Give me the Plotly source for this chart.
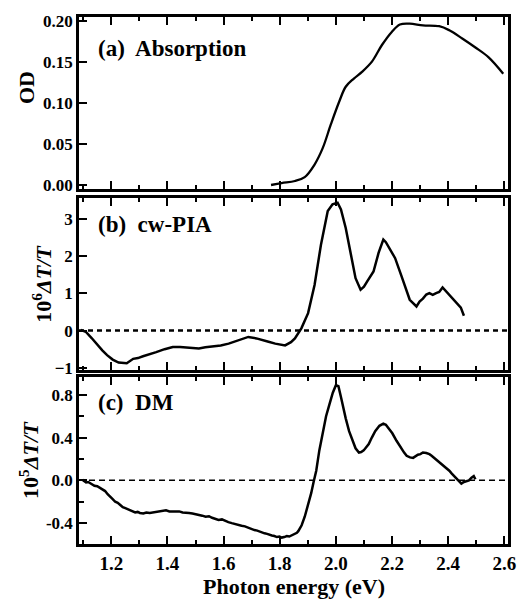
import plotly.graph_objects as go

# ---------------- data ----------------
# (a) absorption spectrum
abs_energy = [1.769, 1.807, 1.854, 1.889, 1.924, 1.953, 1.982, 2.012, 2.035, 2.064,
              2.094, 2.129, 2.164, 2.199, 2.228, 2.263, 2.310, 2.368, 2.404, 2.450,
              2.497, 2.544, 2.596]
abs_od = [0.000, 0.0024, 0.0049, 0.0097, 0.025, 0.045, 0.074, 0.102, 0.120, 0.130,
          0.1385, 0.151, 0.171, 0.187, 0.196, 0.197, 0.195, 0.194, 0.189, 0.179,
          0.168, 0.156, 0.136]

# (b) cw photoinduced absorption, units of 1e-6
pia_energy = [1.091, 1.109, 1.130, 1.150, 1.168, 1.185, 1.205, 1.226, 1.255, 1.278,
              1.295, 1.313, 1.336, 1.360, 1.390, 1.419, 1.445, 1.466, 1.490, 1.512,
              1.535, 1.559, 1.590, 1.618, 1.653, 1.688, 1.717, 1.737, 1.760, 1.784,
              1.819, 1.840, 1.854, 1.877, 1.901, 1.924, 1.947, 1.971, 1.988, 2.006,
              2.018, 2.035, 2.053, 2.070, 2.088, 2.100, 2.111, 2.122, 2.134, 2.152,
              2.169, 2.178, 2.187, 2.211, 2.234, 2.263, 2.287, 2.298, 2.310, 2.322,
              2.333, 2.345, 2.357, 2.368, 2.380, 2.392, 2.404, 2.420, 2.433, 2.445,
              2.456]
pia_signal = [0.02, -0.03, -0.20, -0.39, -0.53, -0.66, -0.78, -0.86, -0.88, -0.76,
              -0.74, -0.69, -0.64, -0.58, -0.50, -0.44, -0.44, -0.45, -0.47, -0.48,
              -0.45, -0.43, -0.40, -0.35, -0.26, -0.17, -0.21, -0.26, -0.30, -0.35,
              -0.40, -0.31, -0.21, 0.06, 0.47, 1.23, 2.32, 3.22, 3.40, 3.44,
              3.26, 2.76, 2.05, 1.41, 1.10, 1.18, 1.32, 1.45, 1.59, 2.09,
              2.45, 2.38, 2.27, 1.95, 1.46, 0.83, 0.65, 0.78, 0.86, 0.97,
              1.01, 0.96, 1.01, 1.04, 1.16, 1.06, 0.96, 0.84, 0.74, 0.62,
              0.40]

# (c) direct modulation, units of 1e-5
dm_energy = [1.097, 1.104, 1.110, 1.118, 1.126, 1.133, 1.140, 1.150, 1.161, 1.170,
             1.178, 1.187, 1.196, 1.205, 1.214, 1.223, 1.232, 1.241, 1.250, 1.258,
             1.267, 1.276, 1.285, 1.294, 1.302, 1.314, 1.325, 1.337, 1.348, 1.360,
             1.372, 1.384, 1.395, 1.407, 1.418, 1.430, 1.442, 1.454, 1.465, 1.477,
             1.489, 1.500, 1.512, 1.524, 1.536, 1.548, 1.559, 1.571, 1.582, 1.594,
             1.605, 1.617, 1.629, 1.641, 1.652, 1.664, 1.676, 1.688, 1.700, 1.710,
             1.720, 1.729, 1.737, 1.746, 1.755, 1.764, 1.772, 1.781, 1.790, 1.799,
             1.807, 1.816, 1.825, 1.834, 1.842, 1.849, 1.855, 1.861, 1.866, 1.872,
             1.878, 1.889, 1.900, 1.912, 1.921, 1.930, 1.941, 1.953, 1.965, 1.977,
             1.989, 2.000, 2.009, 2.018, 2.026, 2.035, 2.047, 2.059, 2.070, 2.082,
             2.090, 2.099, 2.108, 2.117, 2.128, 2.140, 2.155, 2.169, 2.178, 2.187,
             2.201, 2.216, 2.225, 2.234, 2.243, 2.252, 2.264, 2.275, 2.283, 2.292,
             2.301, 2.310, 2.322, 2.333, 2.341, 2.350, 2.359, 2.368, 2.377, 2.386,
             2.395, 2.404, 2.412, 2.421, 2.430, 2.439, 2.447, 2.456, 2.465, 2.474,
             2.483, 2.491, 2.497]
dm_signal = [0.005, -0.008, -0.02, -0.015, -0.03, -0.035, -0.05, -0.055, -0.07, -0.085,
             -0.10, -0.13, -0.15, -0.175, -0.20, -0.21, -0.23, -0.25, -0.26, -0.27,
             -0.28, -0.29, -0.30, -0.295, -0.305, -0.31, -0.30, -0.305, -0.30, -0.295,
             -0.29, -0.285, -0.28, -0.29, -0.29, -0.285, -0.29, -0.30, -0.30, -0.305,
             -0.31, -0.315, -0.32, -0.33, -0.34, -0.335, -0.35, -0.36, -0.37, -0.365,
             -0.38, -0.39, -0.40, -0.41, -0.42, -0.425, -0.43, -0.445, -0.46, -0.465,
             -0.47, -0.48, -0.49, -0.495, -0.50, -0.51, -0.515, -0.52, -0.53, -0.525,
             -0.535, -0.53, -0.52, -0.525, -0.515, -0.51, -0.50, -0.49, -0.475, -0.45,
             -0.42, -0.34, -0.24, -0.12, -0.01, 0.09, 0.28, 0.46, 0.60, 0.71,
             0.82, 0.89, 0.88, 0.78, 0.68, 0.58, 0.46, 0.37, 0.30, 0.26,
             0.265, 0.28, 0.31, 0.34, 0.40, 0.46, 0.51, 0.53, 0.52, 0.49,
             0.44, 0.37, 0.33, 0.30, 0.26, 0.23, 0.215, 0.21, 0.225, 0.24,
             0.245, 0.26, 0.255, 0.245, 0.23, 0.21, 0.195, 0.17, 0.15, 0.13,
             0.11, 0.09, 0.065, 0.04, 0.01, -0.015, -0.03, -0.015, -0.01, 0.00,
             0.025, 0.04, 0.01]

# ---------------- figure ----------------
FONT = "'Liberation Serif', 'Times New Roman', Times, serif"
LINE = dict(color="black", width=2.5)

fig = go.Figure()
fig.add_trace(go.Scatter(x=abs_energy, y=abs_od, mode="lines",
                         line=dict(color="black", width=2.3, shape="spline"),
                         xaxis="x", yaxis="y", showlegend=False))
fig.add_trace(go.Scatter(x=pia_energy, y=pia_signal, mode="lines", line=LINE,
                         xaxis="x2", yaxis="y2", showlegend=False))
fig.add_trace(go.Scatter(x=dm_energy, y=dm_signal, mode="lines", line=LINE,
                         xaxis="x3", yaxis="y3", showlegend=False))

x_range = [1.085, 2.613]
domains = {"a": [0.6736, 1.0], "b": [0.3302, 0.6566], "c": [0.0, 0.3170]}

common_x = dict(range=x_range, showline=True, linecolor="black", linewidth=2.5,
                mirror="ticks", ticks="inside", ticklen=8, tickwidth=2,
                tickcolor="black", tick0=1.0, dtick=0.2, showgrid=False,
                zeroline=False,
                minor=dict(ticks="inside", ticklen=4, tickwidth=2,
                           tickcolor="black", dtick=0.1, tick0=1.0, showgrid=False),
                tickfont=dict(family=FONT, size=19, color="black", weight="bold"))
common_y = dict(showline=True, linecolor="black", linewidth=2.5, mirror=True,
                ticks="inside", ticklen=8, tickwidth=2, tickcolor="black",
                showgrid=False, zeroline=False,
                tickfont=dict(family=FONT, size=17, color="black", weight="bold"))

fig.update_layout(
    width=528, height=604,
    margin=dict(l=79, r=15, t=15, b=60),
    paper_bgcolor="white", plot_bgcolor="white",
    font=dict(family=FONT, size=16, color="black", weight="bold"),
    xaxis=dict(common_x, domain=[0, 1], anchor="y", showticklabels=False),
    yaxis=dict(common_y, domain=domains["a"], anchor="x", range=[-0.0049, 0.2052],
               tickvals=[0.0, 0.05, 0.10, 0.15, 0.20],
               ticktext=["0.00", "0.05", "0.10", "0.15", "0.20"]),
    xaxis2=dict(common_x, domain=[0, 1], anchor="y2", showticklabels=False),
    yaxis2=dict(common_y, domain=domains["b"], anchor="x2", range=[-1.06, 3.57],
                tickvals=[-1, 0, 1, 2, 3]),
    xaxis3=dict(common_x, domain=[0, 1], anchor="y3", showticklabels=True,
                tickvals=[1.2, 1.4, 1.6, 1.8, 2.0, 2.2, 2.4, 2.6],
                ticktext=["1.2", "1.4", "1.6", "1.8", "2.0", "2.2", "2.4", "2.6"]),
    yaxis3=dict(common_y, domain=domains["c"], anchor="x3", range=[-0.595, 0.967],
                tickvals=[-0.4, 0.0, 0.4, 0.8],
                ticktext=["-0.4", "0.0", "0.4", "0.8"],
                minor=dict(ticks="inside", ticklen=5, tickwidth=2, tickcolor="black",
                           tickvals=[-0.2, 0.2, 0.6], showgrid=False)),
)

# zero reference lines
fig.add_shape(type="line", xref="x2 domain", yref="y2", x0=0, x1=1, y0=0, y1=0,
              line=dict(color="black", width=2.5, dash="5px,4px"))
fig.add_shape(type="line", xref="x3 domain", yref="y3", x0=0, x1=1, y0=0, y1=0,
              line=dict(color="black", width=1.5, dash="6px,4px"))

# panel labels
labels = [("(a)  Absorption", 0.9396), ("(b)  cw-PIA", 0.607), ("(c)  DM", 0.269)]
for text, ypos in labels:
    fig.add_annotation(text=text, xref="paper", yref="paper", x=0.040, y=ypos,
                       xanchor="left", yanchor="middle", showarrow=False,
                       font=dict(family=FONT, size=23, color="black", weight="bold"))

# axis titles
ytitles = [("OD", -0.1224, 0.866),
           ("10<sup>6</sup><i>ΔT/T</i>", -0.0878, 0.4943),
           ("10<sup>5</sup><i>ΔT/T</i>", -0.1155, 0.1604)]
for text, xpos, ypos in ytitles:
    fig.add_annotation(text=text, xref="paper", yref="paper", x=xpos, y=ypos,
                       xanchor="center", yanchor="middle", textangle=-90,
                       showarrow=False,
                       font=dict(family=FONT, size=22, color="black", weight="bold"))

fig.add_annotation(text="Photon energy (eV)", xref="paper", yref="paper",
                   x=0.5, y=-0.0811, xanchor="center", yanchor="middle",
                   showarrow=False,
                   font=dict(family=FONT, size=22, color="black", weight="bold"))

fig.write_html("out.html")
